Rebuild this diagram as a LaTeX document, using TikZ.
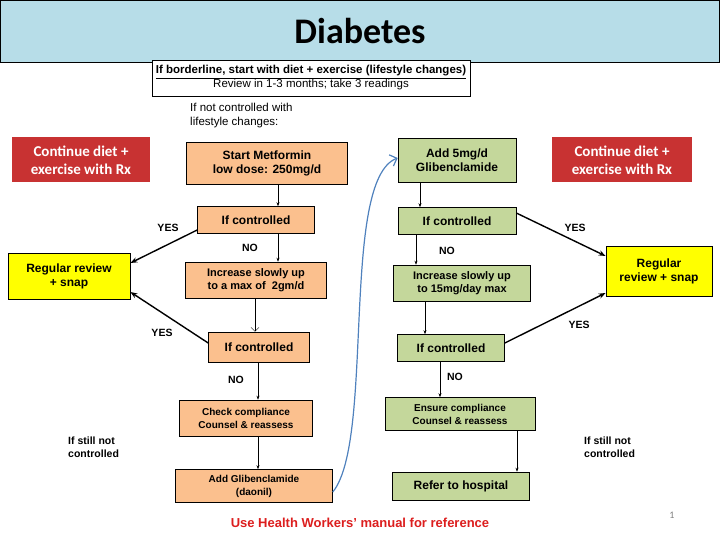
\documentclass[tikz,border=0pt]{standalone}
\usepackage{fontspec}
\setmainfont{Liberation Sans}
\newfontfamily\calib{Carlito}
\usepackage{tikz}
\usetikzlibrary{arrows.meta,positioning}
\definecolor{tituloAzul}{RGB}{183, 221, 232}
\definecolor{naranjaClaro}{RGB}{251, 192, 142}
\definecolor{verdeClaro}{RGB}{196, 215, 155}
\definecolor{rojoCaja}{RGB}{200, 50, 50}
\definecolor{amarillo}{RGB}{255, 255, 0}
\definecolor{azulCurva}{RGB}{79, 129, 189}
\definecolor{rojoTexto}{RGB}{220, 30, 30}
\tikzset{
  caja/.style={draw, line width=0.6pt, inner sep=0pt, align=center,
               font=\fontsize{12}{14}\selectfont\bfseries},
  orange/.style={caja, fill=naranjaClaro},
  green/.style={caja, fill=verdeClaro},
  yellowbox/.style={caja, fill=amarillo, line width=0.8pt},
  redbox/.style={fill=rojoCaja, text=white, align=center,
                 font=\calib\fontsize{15}{18}\selectfont\bfseries},
  flecha/.style={-{Stealth[length=4pt]}, line width=0.5pt},
  gruesa/.style={-{Stealth[length=7pt]}, line width=1.4pt},
  etiqueta/.style={font=\fontsize{10.5}{12.5}\selectfont\bfseries}
}
\begin{document}
\begin{tikzpicture}[x=1pt,y=-1pt]
  \useasboundingbox (0,0) rectangle (720,540);
  % title
  \node (title) [draw, fill=tituloAzul, minimum width=719pt, minimum height=62pt,
    font=\calib\fontsize{36}{40}\selectfont\bfseries] at (360,31) {Diabetes};
  \node (top) [draw, fill=white, minimum width=318pt, minimum height=36pt, align=center,
    font=\fontsize{11.5}{14}\selectfont] at (311,78)
    {\textbf{\underline{If borderline, start with diet + exercise (lifestyle changes)}}\\
     Review in 1-3 months; take 3 readings};
  \node (lifestyle) [anchor=north west, align=left, inner sep=0pt,
    font=\fontsize{11.5}{14}\selectfont] at (190,103)
    {If not controlled with\\lifestyle changes:};
  % red boxes
  \node (redL) [redbox, minimum width=138pt, minimum height=45pt] at (81,160)
    {Continue diet +\\exercise with Rx};
  \node (redR) [redbox, minimum width=140pt, minimum height=45pt] at (622,160)
    {Continue diet +\\exercise with Rx};
  % left column
  \node (met) [orange, minimum width=161pt, minimum height=42pt] at (267,163)
    {Start Metformin\\low dose: 250mg/d};
  \node (ctlL1) [orange, minimum width=117pt, minimum height=27pt] at (256,220) {If controlled};
  \node (incL) [orange, minimum width=141pt, minimum height=36pt,
    font=\fontsize{11}{13}\selectfont\bfseries] at (256,280)
    {Increase slowly up\\to a max of\ \ 2gm/d};
  \node (ctlL2) [orange, minimum width=101pt, minimum height=30pt] at (259,347) {If controlled};
  \node (chk) [orange, minimum width=133pt, minimum height=36pt,
    font=\fontsize{10}{13}\selectfont\bfseries] at (246,418)
    {Check compliance\\Counsel \& reassess};
  \node (addG) [orange, minimum width=157pt, minimum height=33pt,
    font=\fontsize{10}{13}\selectfont\bfseries] at (254,486)
    {Add Glibenclamide\\(daonil)};
  \node (revL) [yellowbox, minimum width=122pt, minimum height=46pt] at (69,276)
    {Regular review\\+ snap};
  % right column
  \node (add5) [green, minimum width=118pt, minimum height=44pt] at (457,160)
    {Add 5mg/d\\Glibenclamide};
  \node (ctlR1) [green, minimum width=118pt, minimum height=27pt] at (457,221) {If controlled};
  \node (incR) [green, minimum width=137pt, minimum height=36pt,
    font=\fontsize{11}{13}\selectfont\bfseries] at (462,283)
    {Increase slowly up\\to 15mg/day max};
  \node (ctlR2) [green, minimum width=107pt, minimum height=27pt] at (451,348) {If controlled};
  \node (ens) [green, minimum width=150pt, minimum height=33pt,
    font=\fontsize{10}{13}\selectfont\bfseries] at (460,414)
    {Ensure compliance\\Counsel \& reassess};
  \node (ref) [green, minimum width=137pt, minimum height=28pt] at (461,486) {Refer to hospital};
  \node (revR) [yellowbox, minimum width=106pt, minimum height=50pt] at (659,271)
    {Regular\\review + snap};
  % vertical arrows
  \draw [flecha] (met.south -| 278,0) -- (ctlL1.north -| 278,0);
  \draw [flecha] (ctlL1.south -| 278,0) -- (incL.north -| 278,0);
  \draw [-{Straight Barb[length=4pt]}, line width=0.4pt] (incL.south -| 255,0) -- (ctlL2.north -| 255,0);
  \draw [flecha] (ctlL2.south -| 258,0) -- (chk.north -| 258,0);
  \draw [flecha] (chk.south -| 258,0) -- (addG.north -| 258,0);
  \draw [flecha] (add5.south -| 420,0) -- (ctlR1.north -| 420,0);
  \draw [flecha] (ctlR1.south -| 416,0) -- (incR.north -| 416,0);
  \draw [flecha] (incR.south -| 425,0) -- (ctlR2.north -| 425,0);
  \draw [flecha] (ctlR2.south -| 440,0) -- (ens.north -| 440,0);
  \draw [flecha] (ens.south -| 517,0) -- (ref.north -| 517,0);
  % yes arrows
  \draw [gruesa] (ctlL1.west |- 0,230) -- (revL.east |- 0,263);
  \draw [gruesa] (ctlL2.west |- 0,343) -- (revL.east |- 0,292);
  \draw [gruesa] (ctlR1.east |- 0,213) -- (revR.west |- 0,256);
  \draw [gruesa] (ctlR2.east |- 0,343) -- (revR.west |- 0,293);
  % blue curve
  \draw [azulCurva, line width=1.2pt, -{Straight Barb[length=6pt]}]
    (addG.east |- 0,492) .. controls (375,440) and (340,180) .. (add5.west |- 0,158);
  % labels
  \node (yes1) [etiqueta] at (168,228) {YES};
  \node (yes2) [etiqueta] at (162,333) {YES};
  \node (yes3) [etiqueta] at (575,228) {YES};
  \node (yes4) [etiqueta] at (579,325) {YES};
  \node (no1) [etiqueta] at (250,248) {NO};
  \node (no2) [etiqueta] at (236,380) {NO};
  \node (no3) [etiqueta] at (447,251) {NO};
  \node (no4) [etiqueta] at (455,377) {NO};
  \node (stillL) [etiqueta, anchor=north west, align=left, inner sep=0pt] at (68,437)
    {If still not\\controlled};
  \node (stillR) [etiqueta, anchor=north west, align=left, inner sep=0pt] at (584,437)
    {If still not\\controlled};
  \node (foot) [text=rojoTexto, font=\fontsize{13}{15}\selectfont\bfseries] at (360,523)
    {Use Health Workers’ manual for reference};
  \node (page) [text=gray, font=\calib\fontsize{10}{12}\selectfont] at (672,515) {1};
\end{tikzpicture}
\end{document}
